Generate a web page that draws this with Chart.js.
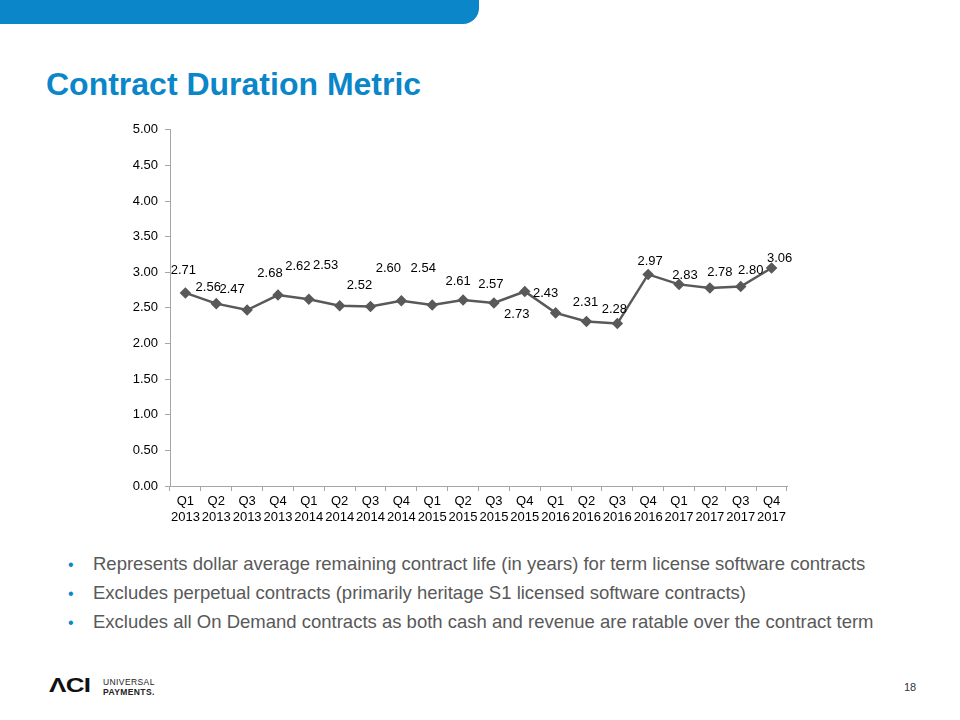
<!DOCTYPE html>
<html>
<head>
<meta charset="utf-8">
<script src="https://cdn.jsdelivr.net/npm/chart.js@4/dist/chart.umd.min.js"></script>
<style>
  body { margin: 0; width: 960px; height: 720px; background: #fff; position: relative; overflow: hidden; font-family: "Liberation Sans", Arial, sans-serif; }
  #banner { position: absolute; left: 0; top: 0; width: 479px; height: 24px; background: #0b86c8; border-bottom-right-radius: 16px; }
  #title { position: absolute; left: 46px; top: 68px; font-size: 32px; line-height: 32px; font-weight: bold; color: #0b86c8; white-space: nowrap; }
  #chartBox { position: absolute; left: 110px; top: 115px; width: 690px; height: 411px; }
  ul { position: absolute; left: 68px; top: 549px; margin: 0; padding: 0; list-style: none; }
  li { font-size: 18.5px; color: #595959; height: 29px; line-height: 29px; white-space: nowrap; }
  li span { color: #0b86c8; display: inline-block; width: 25px; font-size: 16px; }
  #logo { position: absolute; left: 49px; top: 675px; font-size: 20px; line-height: 20px; font-weight: bold; color: #111; letter-spacing: -0.5px; transform: scaleX(1.3); transform-origin: left; }
  #logoText { position: absolute; left: 103px; top: 677px; font-size: 8.5px; line-height: 10px; color: #222; letter-spacing: 0.4px; }
  #logoText b { font-weight: bold; }
  #page { position: absolute; left: 904px; top: 681px; font-size: 11px; color: #333; }
</style>
</head>
<body>
<div id="banner"></div>
<div id="title">Contract Duration Metric</div>
<div id="chartBox"><canvas id="chart"></canvas></div>
<ul>
  <li><span>•</span>Represents dollar average remaining contract life (in years) for term license software contracts</li>
  <li><span>•</span>Excludes perpetual contracts (primarily heritage S1 licensed software contracts)</li>
  <li><span>•</span>Excludes all On Demand contracts as both cash and revenue are ratable over the contract term</li>
</ul>
<div id="logo">ΛCI</div>
<div id="logoText">UNIVERSAL<br><b>PAYMENTS.</b></div>
<div id="page">18</div>
<script>
const quarters = ['Q1','Q2','Q3','Q4','Q1','Q2','Q3','Q4','Q1','Q2','Q3','Q4','Q1','Q2','Q3','Q4','Q1','Q2','Q3','Q4'];
const years = ['2013','2013','2013','2013','2014','2014','2014','2014','2015','2015','2015','2015','2016','2016','2016','2016','2017','2017','2017','2017'];
const durations = [2.71, 2.56, 2.47, 2.68, 2.62, 2.53, 2.52, 2.60, 2.54, 2.61, 2.57, 2.73, 2.43, 2.31, 2.28, 2.97, 2.83, 2.78, 2.80, 3.06];
const yTicks = [0, 0.5, 1, 1.5, 2, 2.5, 3, 3.5, 4, 4.5, 5];

// label placement like the original slide (offset from the marker, px)
const labelOffsets = [
  [-2,-23], [-8,-16], [-15,-21], [-8,-22], [-11,-33], [-14,-40], [-11,-21], [-13,-32], [-9,-37], [-5,-19],
  [-3,-18], [-8,23], [-10,-19], [-1,-19], [-3,-14], [2,-13], [6,-9], [10,-16], [10,-16], [8,-10]
];

const pointLabels = {
  id: 'pointLabels',
  afterDatasetsDraw(chart) {
    const ctx = chart.ctx;
    const meta = chart.getDatasetMeta(0);
    ctx.save();
    ctx.font = '13px "Liberation Sans", Arial, sans-serif';
    ctx.fillStyle = '#000';
    ctx.textAlign = 'center';
    ctx.textBaseline = 'middle';
    meta.data.forEach((pt, i) => {
      const off = labelOffsets[i];
      ctx.fillText(durations[i].toFixed(2), pt.x + off[0], pt.y + off[1]);
    });
    ctx.restore();
  }
};

const ctx = document.getElementById('chart').getContext('2d');
new Chart(ctx, {
  type: 'line',
  data: {
    labels: quarters.map((q, i) => [q, years[i]]),
    datasets: [{
      data: durations,
      borderColor: '#595959',
      backgroundColor: '#595959',
      borderWidth: 2.5,
      pointStyle: 'rectRot',
      pointRadius: 4,
      pointBackgroundColor: '#595959',
      pointBorderColor: '#595959',
      tension: 0
    }]
  },
  options: {
    responsive: true,
    maintainAspectRatio: false,
    animation: false,
    layout: { padding: { top: 11, right: 13, left: 0, bottom: 0 } },
    plugins: { legend: { display: false }, tooltip: { enabled: false } },
    scales: {
      x: {
        offset: true,
        grid: { offset: true, drawOnChartArea: false, drawTicks: true, tickLength: 5, color: '#a6a6a6' },
        border: { color: '#a6a6a6', width: 1 },
        ticks: {
          color: '#000',
          font: { size: 13, family: '"Liberation Sans", Arial, sans-serif', lineHeight: 1.2 },
          padding: 3,
          maxRotation: 0,
          autoSkip: false
        },
        afterFit(scale) { scale.height = 40; }
      },
      y: {
        min: 0,
        max: 5,
        afterBuildTicks(scale) { scale.ticks = yTicks.map(v => ({ value: v })); },
        grid: { drawOnChartArea: false, drawTicks: true, tickLength: 5, color: '#a6a6a6' },
        border: { color: '#a6a6a6', width: 1 },
        ticks: {
          color: '#000',
          font: { size: 13, family: '"Liberation Sans", Arial, sans-serif' },
          padding: 7,
          callback: v => Number(v).toFixed(2)
        },
        afterFit(scale) { scale.width = 60; }
      }
    }
  },
  plugins: [pointLabels]
});
</script>
</body>
</html>
